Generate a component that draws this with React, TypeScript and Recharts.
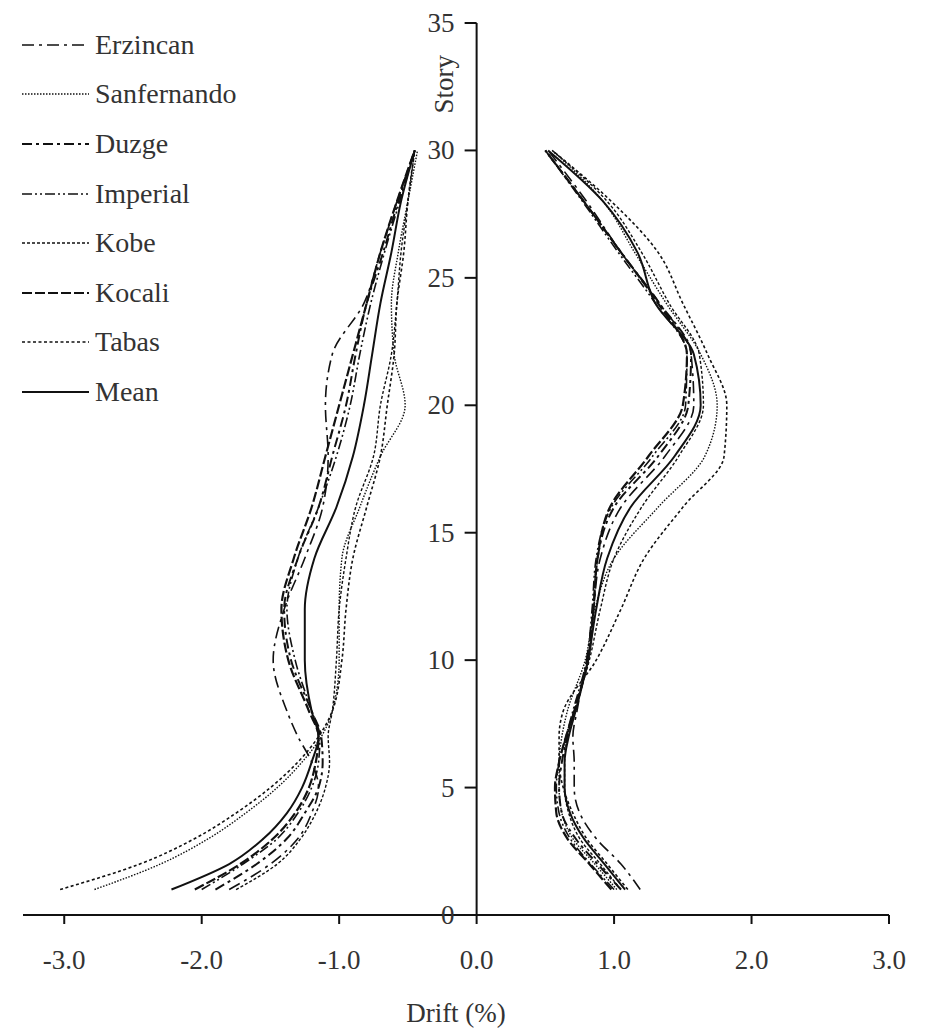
import React from "react";
import {
  LineChart,
  Line,
  XAxis,
  YAxis,
  ReferenceLine,
  ReferenceDot,
  Legend,
} from "recharts";

const stories = [1, 2, 3, 4, 5, 6, 7, 8, 10, 12, 14, 16, 18, 20, 22, 24, 26, 28, 30];

// drift (%) on the negative side, one value per story above
const erzincanNeg = [-1.8, -1.5, -1.3, -1.2, -1.15, -1.2, -1.3, -1.38, -1.48, -1.4, -1.25, -1.12, -1.08, -1.1, -1.05, -0.82, -0.7, -0.58, -0.45];
const sanfernandoNeg = [-2.78, -2.3, -1.95, -1.68, -1.45, -1.27, -1.13, -1.05, -1.0, -1.0, -0.98, -0.85, -0.7, -0.52, -0.6, -0.62, -0.57, -0.5, -0.43];
const duzgeNeg = [-1.9, -1.6, -1.38, -1.25, -1.15, -1.12, -1.13, -1.2, -1.35, -1.4, -1.3, -1.15, -1.05, -0.95, -0.88, -0.8, -0.68, -0.57, -0.45];
const imperialNeg = [-2.0, -1.7, -1.45, -1.3, -1.2, -1.15, -1.14, -1.2, -1.32, -1.38, -1.3, -1.15, -1.02, -0.92, -0.85, -0.77, -0.67, -0.56, -0.45];
const kobeNeg = [-1.75, -1.45, -1.28, -1.17, -1.1, -1.07, -1.08, -1.05, -1.02, -1.0, -0.95, -0.88, -0.75, -0.7, -0.62, -0.58, -0.55, -0.5, -0.45];
const kocaliNeg = [-2.05, -1.72, -1.48, -1.32, -1.22, -1.17, -1.15, -1.22, -1.37, -1.42, -1.33, -1.2, -1.1, -1.0, -0.9, -0.8, -0.7, -0.58, -0.45];
const tabasNeg = [-3.03, -2.45, -2.05, -1.75, -1.5, -1.3, -1.15, -1.05, -0.98, -0.95, -0.9, -0.8, -0.7, -0.65, -0.6, -0.58, -0.53, -0.5, -0.45];
const meanNeg = [-2.22, -1.8, -1.55, -1.38, -1.27, -1.2, -1.15, -1.2, -1.25, -1.25, -1.18, -1.02, -0.9, -0.82, -0.76, -0.7, -0.62, -0.55, -0.45];

// drift (%) on the positive side
const erzincanPos = [1.19, 1.05, 0.87, 0.75, 0.71, 0.71, 0.7, 0.73, 0.8, 0.85, 0.9, 1.05, 1.37, 1.58, 1.56, 1.33, 1.05, 0.8, 0.52];
const sanfernandoPos = [1.02, 0.86, 0.7, 0.62, 0.6, 0.6, 0.62, 0.66, 0.79, 0.86, 1.0, 1.32, 1.66, 1.75, 1.63, 1.38, 1.15, 0.92, 0.55];
const duzgePos = [1.05, 0.88, 0.72, 0.62, 0.6, 0.62, 0.66, 0.71, 0.81, 0.85, 0.88, 1.0, 1.32, 1.54, 1.56, 1.33, 1.05, 0.78, 0.5];
const imperialPos = [1.0, 0.83, 0.68, 0.6, 0.58, 0.6, 0.65, 0.7, 0.8, 0.84, 0.87, 0.98, 1.28, 1.52, 1.53, 1.3, 1.03, 0.77, 0.5];
const kobePos = [1.05, 0.9, 0.75, 0.67, 0.64, 0.64, 0.66, 0.71, 0.82, 0.9, 1.0, 1.2, 1.47, 1.65, 1.62, 1.4, 1.2, 0.95, 0.55];
const kocaliPos = [0.98, 0.82, 0.66, 0.58, 0.57, 0.6, 0.65, 0.71, 0.81, 0.85, 0.88, 0.97, 1.25, 1.5, 1.53, 1.32, 1.05, 0.78, 0.5];
const tabasPos = [1.1, 0.95, 0.8, 0.7, 0.63, 0.6, 0.6, 0.63, 0.87, 1.05, 1.22, 1.5, 1.8, 1.82, 1.68, 1.5, 1.32, 0.98, 0.55];
const meanPos = [1.08, 0.93, 0.78, 0.68, 0.64, 0.64, 0.67, 0.72, 0.81, 0.87, 0.95, 1.12, 1.44, 1.63, 1.58, 1.3, 1.17, 0.92, 0.52];

const seriesNames = ["Erzincan", "Sanfernando", "Duzge", "Imperial", "Kobe", "Kocali", "Tabas", "Mean"];
const xTicks = [-3, -2, -1, 0, 1, 2, 3];
const storyTicks = [0, 5, 10, 15, 20, 25, 30, 35];

const negValues = [erzincanNeg, sanfernandoNeg, duzgeNeg, imperialNeg, kobeNeg, kocaliNeg, tabasNeg, meanNeg];
const posValues = [erzincanPos, sanfernandoPos, duzgePos, imperialPos, kobePos, kocaliPos, tabasPos, meanPos];

const lineStyle: Record<string, { dash?: string; width: number }> = {
  Erzincan: { dash: "12 5 3 5", width: 1.6 },
  Sanfernando: { dash: "1.5 1.5", width: 1.4 },
  Duzge: { dash: "10 4 3 4", width: 2 },
  Imperial: { dash: "10 3 2 3 2 3", width: 1.6 },
  Kobe: { dash: "3 2", width: 1.4 },
  Kocali: { dash: "10 3", width: 2.2 },
  Tabas: { dash: "3 2.5", width: 1.6 },
  Mean: { width: 2 },
};

const data = stories.map((story, i) => {
  const row: Record<string, number> = { story };
  seriesNames.forEach((name, k) => {
    row[name + "Neg"] = negValues[k][i];
    row[name + "Pos"] = posValues[k][i];
  });
  return row;
});

const FONT = '"Liberation Serif", "Times New Roman", serif';
const INK = "#111";
const TEXT = "#333";

function LegendBox() {
  return (
    <div style={{ fontFamily: FONT }}>
      {seriesNames.map((name) => (
        <div key={name} style={{ display: "flex", alignItems: "center", height: 49.6 }}>
          <svg width={90} height={10}>
            <line
              x1={22}
              x2={89}
              y1={5}
              y2={5}
              stroke={INK}
              strokeWidth={lineStyle[name].width}
              strokeDasharray={lineStyle[name].dash}
            />
          </svg>
          <span style={{ fontSize: 28, color: TEXT, marginLeft: 5 }}>{name}</span>
        </div>
      ))}
    </div>
  );
}

export default function App() {
  return (
    <div style={{ position: "absolute", left: 0, top: 0, width: 927, height: 1036, background: "#fff" }}>
      <LineChart
        width={927}
        height={1036}
        data={data}
        layout="vertical"
        margin={{ top: 23, right: 38, bottom: 0, left: 23 }}
      >
        <XAxis
          type="number"
          domain={[-3.3, 3]}
          ticks={xTicks}
          tickFormatter={(v: number) => v.toFixed(1)}
          axisLine={{ stroke: INK, strokeWidth: 2 }}
          tickLine={{ stroke: INK, strokeWidth: 2 }}
          tickSize={9}
          tickMargin={26}
          tick={{ fill: TEXT, fontSize: 27, fontFamily: FONT }}
          height={121}
          label={{
            value: "Drift (%)",
            position: "insideBottom",
            offset: 14,
            style: { fill: TEXT, fontSize: 27, fontFamily: FONT },
          }}
        />
        <YAxis type="number" dataKey="story" domain={[0, 35]} reversed hide width={0} />
        <ReferenceLine x={0} stroke={INK} strokeWidth={2} />
        {storyTicks.map((t) => (
          <ReferenceDot
            key={t}
            x={0}
            y={t}
            r={0}
            shape={(p: any) => (
              <g>
                <line x1={p.cx - 12} x2={p.cx} y1={p.cy} y2={p.cy} stroke={INK} strokeWidth={2} />
                <text
                  x={p.cx - 22}
                  y={p.cy + 9}
                  textAnchor="end"
                  fontSize={27}
                  fontFamily={FONT}
                  fill={TEXT}
                >
                  {t}
                </text>
              </g>
            )}
          />
        ))}
        <ReferenceDot
          x={0}
          y={32.6}
          r={0}
          shape={(p: any) => (
            <text
              x={p.cx - 33}
              y={p.cy}
              transform={`rotate(-90 ${p.cx - 33} ${p.cy})`}
              textAnchor="middle"
              dominantBaseline="central"
              fontSize={27}
              fontFamily={FONT}
              fill={TEXT}
            >
              Story
            </text>
          )}
        />
        {seriesNames.map((name) => (
          <Line
            key={name + "Neg"}
            dataKey={name + "Neg"}
            name={name}
            type="monotone"
            stroke={INK}
            strokeWidth={lineStyle[name].width}
            strokeDasharray={lineStyle[name].dash}
            dot={false}
            isAnimationActive={false}
          />
        ))}
        {seriesNames.map((name) => (
          <Line
            key={name + "Pos"}
            dataKey={name + "Pos"}
            name={name}
            type="monotone"
            stroke={INK}
            strokeWidth={lineStyle[name].width}
            strokeDasharray={lineStyle[name].dash}
            dot={false}
            legendType="none"
            isAnimationActive={false}
          />
        ))}
        <Legend
          layout="vertical"
          align="center"
          verticalAlign="middle"
          content={() => <LegendBox />}
          wrapperStyle={{ left: 0, top: 20, width: 300 }}
        />
      </LineChart>
    </div>
  );
}
